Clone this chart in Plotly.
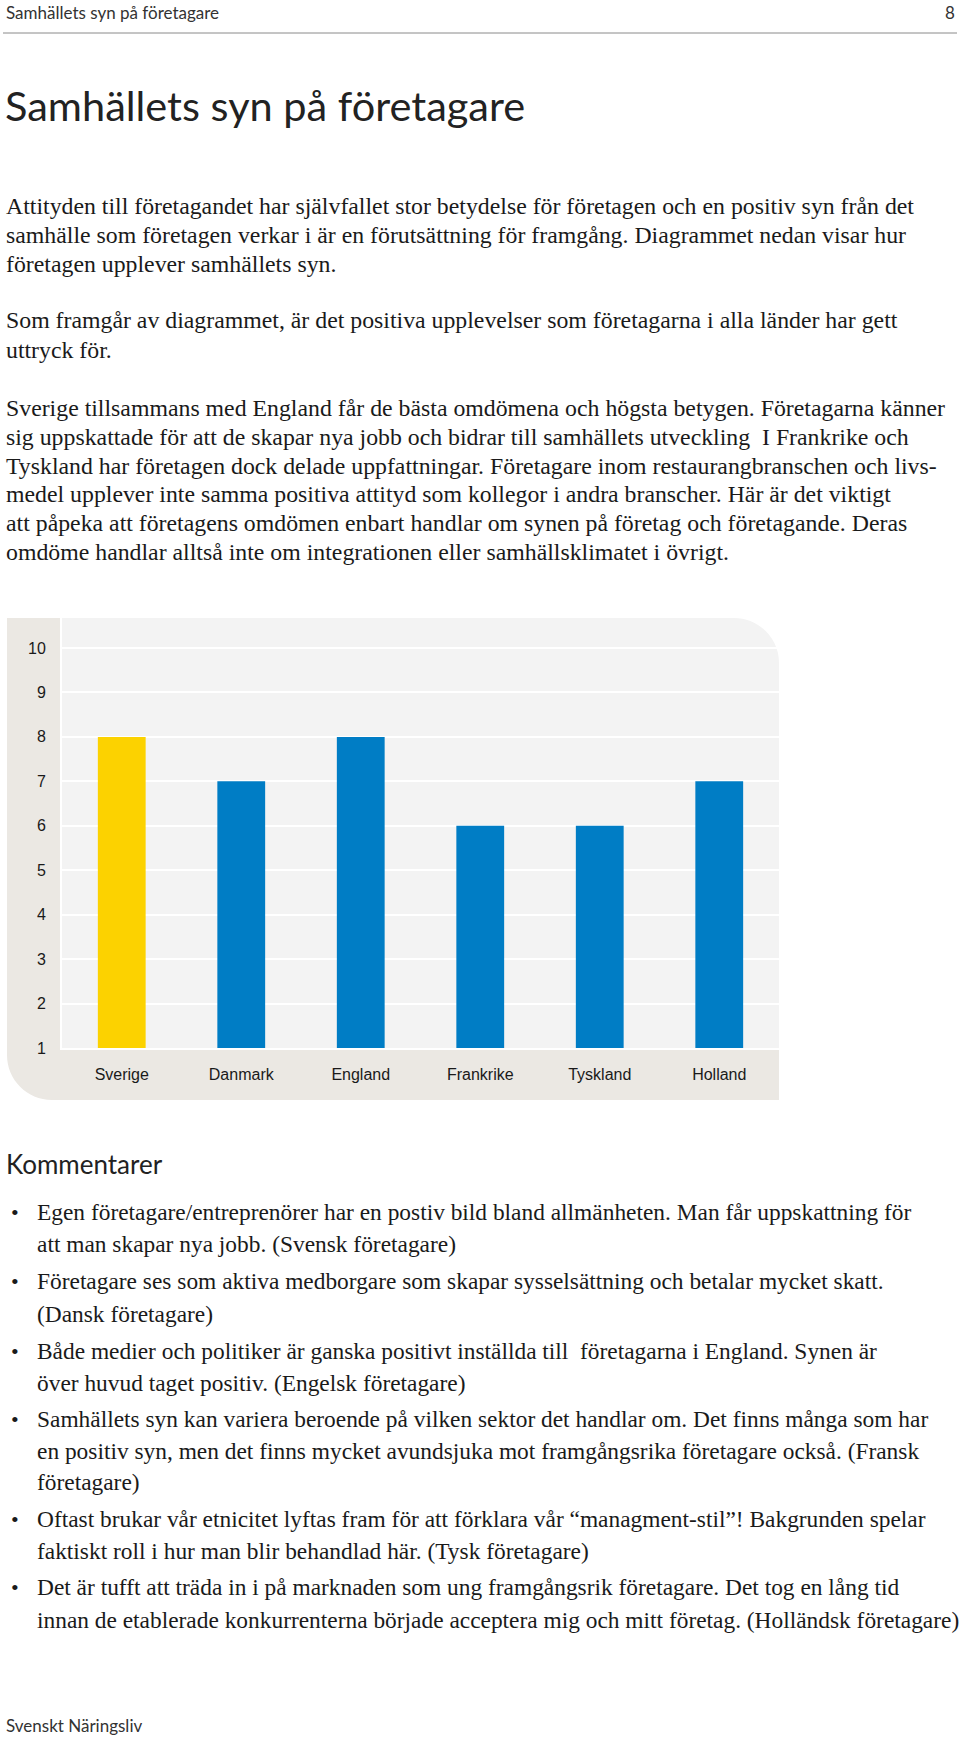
import plotly.graph_objects as go

W, H = 960, 1738

# ---------------- data ----------------
countries = ["Sverige", "Danmark", "England", "Frankrike", "Tyskland", "Holland"]
scores = [8, 7, 8, 6, 6, 7]
bar_colors = ["#FCD200", "#007DC5", "#007DC5", "#007DC5", "#007DC5", "#007DC5"]
y_ticks = [1, 2, 3, 4, 5, 6, 7, 8, 9, 10]

header_text = "Samhällets syn på företagare"
page_no = "8"
title_text = "Samhällets syn på företagare"

para_lines = [
    "Attityden till företagandet har självfallet stor betydelse för företagen och en positiv syn från det",
    "samhälle som företagen verkar i är en förutsättning för framgång. Diagrammet nedan visar hur",
    "företagen upplever samhällets syn.",
    "Som framgår av diagrammet, är det positiva upplevelser som företagarna i alla länder har gett",
    "uttryck för.",
    "Sverige tillsammans med England får de bästa omdömena och högsta betygen. Företagarna känner",
    "sig uppskattade för att de skapar nya jobb och bidrar till samhällets utveckling  I Frankrike och",
    "Tyskland har företagen dock delade uppfattningar. Företagare inom restaurangbranschen och livs-",
    "medel upplever inte samma positiva attityd som kollegor i andra branscher. Här är det viktigt",
    "att påpeka att företagens omdömen enbart handlar om synen på företag och företagande. Deras",
    "omdöme handlar alltså inte om integrationen eller samhällsklimatet i övrigt.",
]
para_y = [206, 235, 264, 320, 350, 408, 437, 466, 494, 523, 552]

comments_title = "Kommentarer"
comment_lines = [
    ("Egen företagare/entreprenörer har en postiv bild bland allmänheten. Man får uppskattning för", True),
    ("att man skapar nya jobb. (Svensk företagare)", False),
    ("Företagare ses som aktiva medborgare som skapar sysselsättning och betalar mycket skatt.", True),
    ("(Dansk företagare)", False),
    ("Både medier och politiker är ganska positivt inställda till  företagarna i England. Synen är", True),
    ("över huvud taget positiv. (Engelsk företagare)", False),
    ("Samhällets syn kan variera beroende på vilken sektor det handlar om. Det finns många som har", True),
    ("en positiv syn, men det finns mycket avundsjuka mot framgångsrika företagare också. (Fransk", False),
    ("företagare)", False),
    ("Oftast brukar vår etnicitet lyftas fram för att förklara vår “managment-stil”! Bakgrunden spelar", True),
    ("faktiskt roll i hur man blir behandlad här. (Tysk företagare)", False),
    ("Det är tufft att träda in i på marknaden som ung framgångsrik företagare. Det tog en lång tid", True),
    ("innan de etablerade konkurrenterna började acceptera mig och mitt företag. (Holländsk företagare)", False),
]
comment_y = [1212, 1244, 1281, 1314, 1351, 1383, 1419, 1451, 1482, 1519, 1551, 1587, 1620]
footer_text = "Svenskt Näringsliv"

# ---------------- helpers ----------------
def px(x):
    return x / W

def py(y):
    return 1 - y / H

SANS = "Lato, 'Open Sans', sans-serif"
SERIF = "'Liberation Serif', 'DejaVu Serif', serif"
TXT = "#1a1a1a"

# chart box geometry (pixels)
X0, XS, XP, X1 = 7, 60, 62, 779
Y0, YP, YB, Y1 = 618, 1048, 1050, 1100
R = 45
K = 0.5523

fig = go.Figure()
fig.add_trace(go.Bar(
    x=countries, y=scores, marker=dict(color=bar_colors, line=dict(width=0)),
    width=0.4, hoverinfo="skip", showlegend=False,
))

def P(x, y):
    return f"{px(x):.6f},{py(y):.6f}"

gray_path = (
    f"M{P(X0, Y0)} L{P(XS, Y0)} L{P(XS, YB)} L{P(X1, YB)} L{P(X1, Y1)} "
    f"L{P(X0 + R, Y1)} C{P(X0 + R - K * R, Y1)} {P(X0, Y1 - R + K * R)} {P(X0, Y1 - R)} Z"
)
light_path = (
    f"M{P(XP, Y0)} L{P(X1 - R, Y0)} C{P(X1 - R + K * R, Y0)} {P(X1, Y0 + R - K * R)} {P(X1, Y0 + R)} "
    f"L{P(X1, YP)} L{P(XP, YP)} Z"
)
shapes = [
    dict(type="path", path=gray_path, xref="paper", yref="paper",
         fillcolor="#EBE8E3", line=dict(width=0), layer="below"),
    dict(type="path", path=light_path, xref="paper", yref="paper",
         fillcolor="#F3F3F3", line=dict(width=0), layer="below"),
    dict(type="line", xref="paper", yref="paper", x0=px(3), x1=px(957), y0=py(33), y1=py(33),
         line=dict(color="#8a8a8a", width=1)),
]

annotations = []
def add_text(x, y, text, size, family, color=TXT, anchor="left"):
    annotations.append(dict(
        x=px(x), y=py(y), xref="paper", yref="paper", text=text, showarrow=False,
        xanchor=anchor, yanchor="middle", align=anchor,
        font=dict(size=size, family=family, color=color),
    ))

add_text(4, 12, header_text, 17, SANS, "#333333")
add_text(957, 12, page_no, 17, SANS, "#333333", anchor="right")
add_text(3, 105, title_text, 41.5, SANS, "#222222")
for t, y in zip(para_lines, para_y):
    add_text(4, y, t, 23.8, SERIF)
add_text(4, 1164, comments_title, 26, SANS, "#222222")
for (t, bullet), y in zip(comment_lines, comment_y):
    if bullet:
        add_text(9, y, "•", 22, SERIF)
    add_text(35, y, t, 23.4, SERIF)
add_text(4, 1725, footer_text, 17, SANS, "#333333")

fig.update_layout(
    width=W, height=H,
    margin=dict(l=0, r=0, t=0, b=0, pad=0, autoexpand=False),
    paper_bgcolor="white", plot_bgcolor="rgba(0,0,0,0)",
    shapes=shapes, annotations=annotations,
    xaxis=dict(
        domain=[px(XP), px(X1)], range=[-0.5, 5.5], showgrid=False, zeroline=False,
        showline=False, ticks="outside", ticklen=12, tickcolor="rgba(0,0,0,0)",
        tickfont=dict(family="Arial, 'Liberation Sans', sans-serif", size=16, color="#1a1a1a"),
        fixedrange=True, automargin=False,
    ),
    yaxis=dict(
        domain=[py(YP), py(Y0)], range=[1, 10.675], tickvals=y_ticks,
        showgrid=True, gridcolor="white", gridwidth=2, zeroline=False, showline=False,
        ticks="outside", ticklen=12, tickcolor="rgba(0,0,0,0)",
        tickfont=dict(family="Arial, 'Liberation Sans', sans-serif", size=16, color="#1a1a1a"),
        fixedrange=True, automargin=False,
    ),
)

fig.write_html(
    "out.html",
    config={"displayModeBar": False},
    post_script=(
        "document.body.style.margin='0px';document.body.style.padding='0px';"
        "document.body.style.overflow='hidden';document.documentElement.style.overflow='hidden';"
    ),
)
